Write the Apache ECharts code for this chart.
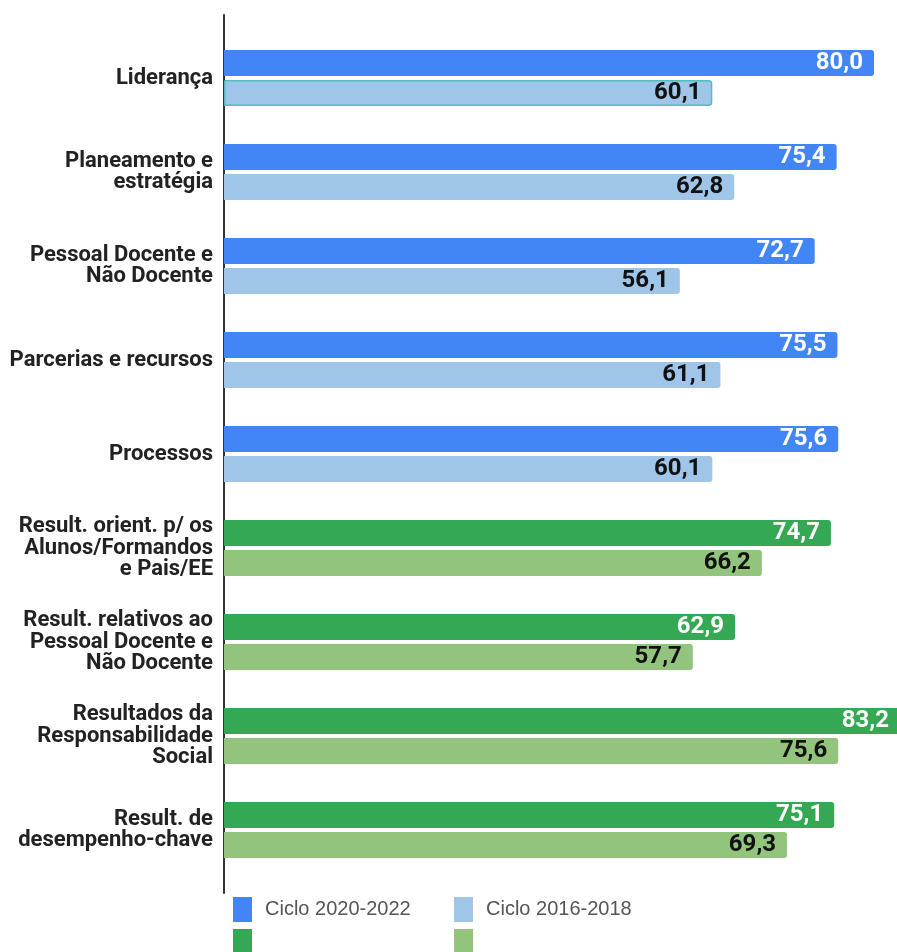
<!DOCTYPE html>
<html>
<head>
<meta charset="utf-8">
<script src="https://cdn.jsdelivr.net/npm/echarts@6/dist/echarts.min.js"></script>
<style>
  html, body { margin: 0; padding: 0; background: #fff; }
  #chart { width: 897px; height: 952px; }
</style>
</head>
<body>
<div id="chart"></div>
<script>
// categorias (de cima para baixo)
const categories = [
  'Liderança',
  'Planeamento e\nestratégia',
  'Pessoal Docente e\nNão Docente',
  'Parcerias e recursos',
  'Processos',
  'Result. orient. p/ os\nAlunos/Formandos\ne Pais/EE',
  'Result. relativos ao\nPessoal Docente e\nNão Docente',
  'Resultados da\nResponsabilidade\nSocial',
  'Result. de\ndesempenho-chave'
];
const ciclo2020 = [80.0, 75.4, 72.7, 75.5, 75.6, 74.7, 62.9, 83.2, 75.1];
const ciclo2016 = [60.1, 62.8, 56.1, 61.1, 60.1, 66.2, 57.7, 75.6, 69.3];
// a partir deste índice as barras são dos critérios de resultados (verde)
const firstResult = 5;

const seriesNames = ['Ciclo 2020-2022', 'Ciclo 2016-2018', 'Resultados 2020-2022', 'Resultados 2016-2018'];

const chart = echarts.init(document.getElementById('chart'));

function fmt(p) {
  return p.value.toFixed(1).replace('.', ',');
}

function makeSeries(name, values, isResult, color, labelColor, stack) {
  return {
    name,
    type: 'bar',
    stack,
    barWidth: 26,
    barGap: '15%',
    clip: false,
    itemStyle: { color, borderRadius: [0, 3, 3, 0] },
    label: {
      show: true,
      position: 'insideRight',
      distance: 11,
      formatter: fmt,
      color: labelColor,
      fontFamily: 'Roboto',
      fontWeight: 'bold',
      fontSize: 24
    },
    data: values.map((v, i) => {
      if ((i >= firstResult) !== isResult) return '-';
      // célula selecionada na imagem original
      if (name === 'Ciclo 2016-2018' && i === 0) {
        return { value: v, itemStyle: { borderColor: '#4fbfc0', borderWidth: 1.5 } };
      }
      return v;
    })
  };
}

const legendBase = {
  orient: 'horizontal',
  padding: 0,
  icon: 'rect',
  itemWidth: 19,
  itemHeight: 25,
  selectedMode: false,
  textStyle: {
    fontFamily: 'Liberation Sans',
    fontSize: 20,
    color: '#555',
    padding: [0, 0, 0, 8]
  },
  formatter: name => (name.indexOf('Ciclo') === 0 ? name : '')
};

chart.setOption({
  animation: false,
  backgroundColor: '#fff',
  legend: [
    Object.assign({}, legendBase, { data: [seriesNames[0]], left: 233, top: 897 }),
    Object.assign({}, legendBase, { data: [seriesNames[1]], left: 454, top: 897 }),
    Object.assign({}, legendBase, { data: [seriesNames[2]], left: 233, top: 929 }),
    Object.assign({}, legendBase, { data: [seriesNames[3]], left: 454, top: 929 })
  ],
  grid: [
    { left: 224, top: 31, right: 0, height: 846 },
    // só para a linha vertical do eixo, que é mais comprida que as categorias
    { left: 224, top: 15, width: 10, height: 878 }
  ],
  xAxis: [
    // 80 termina em x=874 -> 8,125 px por unidade; 673 px de largura
    { gridIndex: 0, type: 'value', min: 0, max: 82.83, show: false },
    { gridIndex: 1, type: 'value', min: 0, max: 1, show: false }
  ],
  yAxis: [
    {
      gridIndex: 0,
      type: 'category',
      inverse: true,
      data: categories,
      axisLine: { show: false },
      axisTick: { show: false },
      axisLabel: {
        margin: 11,
        fontFamily: 'Roboto',
        fontWeight: 'bold',
        fontSize: 22,
        lineHeight: 21.5,
        color: '#222',
        align: 'right'
      }
    },
    {
      gridIndex: 1,
      type: 'value',
      min: 0,
      max: 1,
      axisLine: { show: true, lineStyle: { color: '#333', width: 2 } },
      axisTick: { show: false },
      axisLabel: { show: false },
      splitLine: { show: false }
    }
  ],
  series: [
    makeSeries(seriesNames[0], ciclo2020, false, '#4285f4', '#fff', 'novo'),
    makeSeries(seriesNames[1], ciclo2016, false, '#9fc5e8', '#111', 'antigo'),
    makeSeries(seriesNames[2], ciclo2020, true, '#34a853', '#fff', 'novo'),
    makeSeries(seriesNames[3], ciclo2016, true, '#93c47d', '#111', 'antigo')
  ]
});
</script>
</body>
</html>
